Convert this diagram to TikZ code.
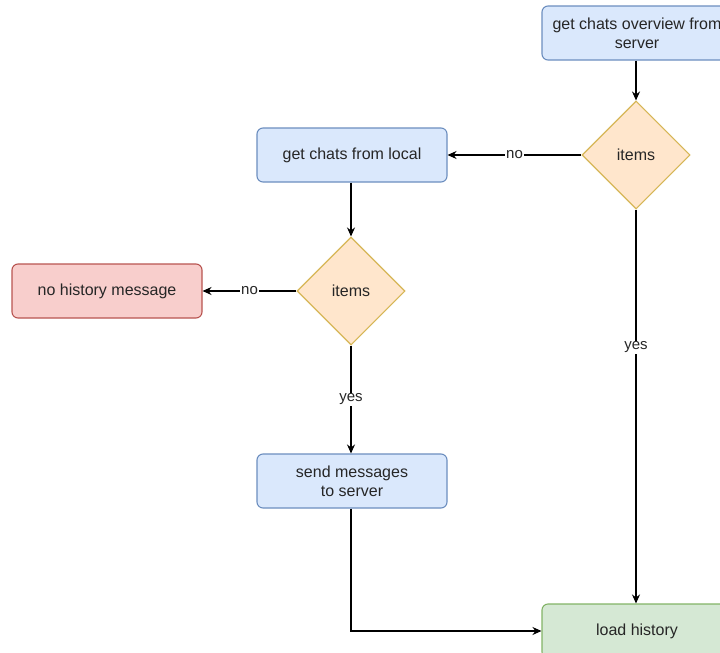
\documentclass[tikz,border=0pt]{standalone}
\usepackage{fontspec}
\setmainfont{Liberation Sans}
\usetikzlibrary{shapes.geometric,arrows.meta}
\definecolor{bfill}{HTML}{DAE8FC}\definecolor{bdraw}{HTML}{6C8EBF}
\definecolor{ofill}{HTML}{FFE6CC}\definecolor{odraw}{HTML}{D6B656}
\definecolor{rfill}{HTML}{F8CECC}\definecolor{rdraw}{HTML}{B85450}
\definecolor{gfill}{HTML}{D5E8D4}\definecolor{gdraw}{HTML}{82B366}
\tikzset{
  box/.style={rectangle, rounded corners=6pt, minimum width=190pt, minimum height=54pt, line width=1.1pt, align=center, font=\fontsize{16}{19}\selectfont, text=black!85},
  bluebox/.style={box, fill=bfill, draw=bdraw},
  redbox/.style={box, fill=rfill, draw=rdraw},
  greenbox/.style={box, fill=gfill, draw=gdraw},
  decision/.style={diamond, aspect=1, minimum width=108pt, minimum height=108pt, inner sep=0pt, fill=ofill, draw=odraw, line width=1.1pt, font=\fontsize{16}{19}\selectfont, text=black!85},
  conn/.style={draw=black, line width=1.2pt, -{Stealth[length=9pt,width=8pt]}},
  lbl/.style={fill=white, inner sep=1pt, font=\fontsize{15}{18}\selectfont, text=black!85}
}
\begin{document}
\begin{tikzpicture}[x=1pt,y=-1pt]
\useasboundingbox (0,0) rectangle (720,653);
\node[bluebox] (top) at (637,33) {get chats overview from\\server};
\node[decision] (d1) at (636,155) {items};
\node[bluebox] (local) at (352,155) {get chats from local};
\node[decision] (d2) at (351,291) {items};
\node[redbox] (nohist) at (107,291) {no history message};
\node[bluebox] (send) at (352,481) {send messages\\to server};
\node[greenbox] (load) at (637,631) {load history};
\draw[conn] (top.south -| d1.north) -- (d1.north);
\draw[conn] (d1.west) -- node[lbl, pos=0.5] {no} (local.east);
\draw[conn] (d1.south) -- node[lbl, pos=0.35] {yes} (d1.south |- load.north);
\draw[conn] (local.south -| d2.north) -- (d2.north);
\draw[conn] (d2.west) -- node[lbl] {no} (nohist.east);
\draw[conn] (d2.south) -- node[lbl] {yes} (d2.south |- send.north);
\draw[conn] (send.south -| d2.south) |- (load.west);
\end{tikzpicture}
\end{document}
